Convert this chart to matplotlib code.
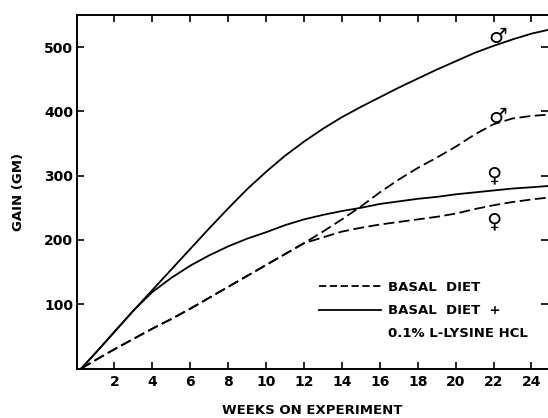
import matplotlib
matplotlib.use("Agg")
import matplotlib.pyplot as plt
from matplotlib.lines import Line2D

plt.rcParams["font.family"] = ["DejaVu Sans"]
plt.rcParams["font.weight"] = "bold"

# weeks on experiment
weeks = [0.25, 1, 2, 3, 4, 5, 6, 7, 8, 9, 10, 11, 12, 13, 14, 15, 16,
         17, 18, 19, 20, 21, 22, 23, 24, 24.9]

# gain in grams
male_lysine = [0, 24, 57, 90, 122, 154, 186, 218, 249, 279, 306, 331, 353,
               373, 391, 407, 422, 437, 451, 465, 478, 491, 502, 512, 521, 527]
female_lysine = [0, 24, 57, 90, 119, 141, 160, 176, 190, 202, 212, 223, 232,
                 239, 245, 250, 256, 260, 264, 267, 271, 274, 277, 280, 282, 284]
male_basal = [0, 13, 30, 46, 62, 77, 93, 110, 127, 144, 161, 178, 195,
              213, 232, 252, 274, 294, 312, 328, 345, 364, 380, 389, 393, 395]
female_basal = [0, 13, 30, 46, 62, 77, 93, 110, 127, 144, 161, 178, 195,
                204, 213, 219, 224, 228, 232, 236, 241, 248, 254, 259, 263, 266]

# sex symbols written next to the curves (week, gain)
sex_labels = ["\u2642", "\u2642", "\u2640", "\u2640"]
sex_weeks = [22.2, 22.2, 22.0, 22.0]
sex_gain = [516, 391, 300, 229]

x_ticks = [2, 4, 6, 8, 10, 12, 14, 16, 18, 20, 22, 24]
y_ticks = [100, 200, 300, 400, 500]

fig = plt.figure(figsize=(5.48, 4.18), dpi=100)
ax = fig.add_axes([0.1396, 0.1184, 0.8613, 0.8457])

curve_kw = dict(color="black", linewidth=1.3)
dash = (6, 2.5)
ax.plot(weeks, male_lysine, **curve_kw)
ax.plot(weeks, female_lysine, **curve_kw)
ax.plot(weeks, male_basal, dashes=dash, **curve_kw)
ax.plot(weeks, female_basal, dashes=dash, **curve_kw)

for sym, wk, g in zip(sex_labels, sex_weeks, sex_gain):
    ax.text(wk, g, sym, fontsize=15, ha="center", va="center",
            fontweight="bold")

ax.set_xlim(0, 24.9)
ax.set_ylim(0, 550)
ax.set_xticks(x_ticks)
ax.set_yticks(y_ticks)
ax.tick_params(direction="in", length=5, width=1.2, labelsize=10,
               top=True, right=True)
ax.tick_params(axis="x", pad=4.5)
ax.tick_params(axis="y", pad=2.5)

for side in ("left", "bottom", "top"):
    ax.spines[side].set_linewidth(1.4)
ax.spines["right"].set_visible(False)

ax.set_xlabel("WEEKS ON EXPERIMENT", fontsize=9.5, fontweight="bold", labelpad=11)
ax.set_ylabel("GAIN (GM)", fontsize=9.5, fontweight="bold", labelpad=14)

handles = [
    Line2D([], [], color="black", linewidth=1.3, dashes=(4, 2)),
    Line2D([], [], color="black", linewidth=1.3),
    Line2D([], [], linestyle="none"),
]
labels = ["BASAL  DIET", "BASAL  DIET  +", "0.1% L-LYSINE HCL"]
ax.legend(handles, labels, loc="upper left", bbox_to_anchor=(0.514, 0.248),
          frameon=False, handlelength=4.7, handletextpad=0.5,
          labelspacing=0.78, borderpad=0, borderaxespad=0,
          prop={"weight": "bold", "size": 9.5})

fig.savefig("out.png", dpi=100)
